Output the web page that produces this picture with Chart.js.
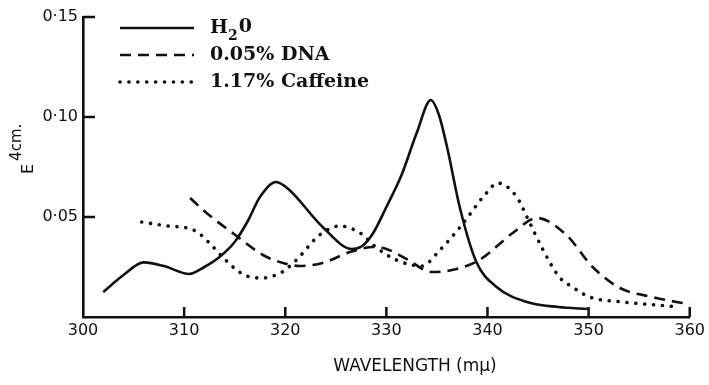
<!DOCTYPE html>
<html>
<head>
<meta charset="utf-8">
<script src="https://cdn.jsdelivr.net/npm/chart.js@4.4.0/dist/chart.umd.min.js"></script>
<style>
  html, body { margin: 0; padding: 0; background: #fff; }
</style>
</head>
<body>
<canvas id="spectra" width="709" height="385"></canvas>
<script>
// absorbance spectra (wavelength in mμ, E 4cm.)
const waterNm = [302, 304, 306, 308, 310.5, 312, 313.5, 315, 316.3, 317.5, 319.1, 320.3, 323.7, 326.6, 327.6, 328.7, 330.0, 331.5, 333.0, 334.4, 335.2, 336.0, 337.3, 338.9, 340.9, 343.9, 347, 350];
const waterE = [0.0125, 0.021, 0.0273, 0.0255, 0.0215, 0.025, 0.030, 0.0375, 0.048, 0.060, 0.0675, 0.064, 0.045, 0.034, 0.0355, 0.042, 0.055, 0.071, 0.092, 0.1085, 0.101, 0.085, 0.054, 0.0275, 0.015, 0.0075, 0.005, 0.004];

const dnaNm = [310.6, 312.1, 314.8, 317.8, 319.8, 321.4, 323.7, 326.4, 328.7, 330.0, 332, 334.5, 336.5, 339.2, 342.5, 344.9, 347.8, 350.4, 353.1, 356.3, 358.7, 360];
const dnaE = [0.0595, 0.0525, 0.042, 0.031, 0.027, 0.0255, 0.027, 0.0325, 0.035, 0.034, 0.029, 0.0225, 0.0235, 0.0285, 0.042, 0.0495, 0.041, 0.025, 0.0145, 0.010, 0.0075, 0.0065];

const caffeineNm = [305.8, 308.4, 310.3, 311.3, 312.4, 313.9, 315.2, 316.2, 317.8, 318.8, 319.7, 321.1, 323.4, 325.4, 327.7, 328.7, 331.0, 333.5, 335.3, 337.3, 339.9, 341.0, 342.9, 343.9, 345.5, 347.1, 348.4, 350.1, 353.4, 356.7, 359];
const caffeineE = [0.0475, 0.0455, 0.0445, 0.0425, 0.0375, 0.0295, 0.0235, 0.0205, 0.0195, 0.0205, 0.0225, 0.0285, 0.041, 0.0455, 0.041, 0.036, 0.0285, 0.0255, 0.0335, 0.045, 0.062, 0.067, 0.060, 0.050, 0.0335, 0.020, 0.015, 0.010, 0.0075, 0.006, 0.005];

const seriesLabels = ['H20', '0.05% DNA', '1.17% Caffeine'];
const xRange = [300, 360];
const yRange = [0, 0.15];
const xTitle = 'WAVELENGTH (mμ)';
const yTitle = ['E', '4cm.'];

const ink = '#111';
const pairs = (xs, ys) => xs.map((x, i) => ({ x, y: ys[i] }));
const tickFont = { family: 'DejaVu Sans', size: 16 };
const legendFont = 'bold 19px "DejaVu Serif"';

// tick marks in the original point into the plot, so draw them ourselves
const inwardTicks = {
  id: 'inwardTicks',
  afterDatasetsDraw(chart) {
    const { ctx, chartArea: area, scales: { x, y } } = chart;
    ctx.save();
    ctx.strokeStyle = ink;
    ctx.lineWidth = 2.5;
    ctx.beginPath();
    x.ticks.forEach((t) => {
      if (t.value === x.min) return;
      const px = x.getPixelForValue(t.value);
      ctx.moveTo(px, area.bottom);
      ctx.lineTo(px, area.bottom - 10);
    });
    y.ticks.forEach((t) => {
      if (t.value === 0) return;
      const py = y.getPixelForValue(t.value);
      ctx.moveTo(area.left, py);
      ctx.lineTo(area.left + 12, py);
    });
    ctx.stroke();
    ctx.restore();
  },
};

const annotations = {
  id: 'annotations',
  afterDraw(chart) {
    const { ctx } = chart;
    ctx.save();
    ctx.fillStyle = ink;

    // legend, using each dataset's own stroke style
    chart.data.datasets.forEach((ds, i) => {
      const ly = 28 + i * 27;
      ctx.save();
      ctx.strokeStyle = ds.borderColor;
      ctx.lineWidth = ds.borderWidth;
      ctx.lineCap = ds.borderCapStyle || 'butt';
      ctx.setLineDash(ds.borderDash || []);
      ctx.beginPath();
      ctx.moveTo(120, ly);
      ctx.lineTo(194, ly);
      ctx.stroke();
      ctx.restore();

      ctx.font = legendFont;
      ctx.textBaseline = 'middle';
      ctx.textAlign = 'left';
      const label = ds.label;
      if (i === 0) {
        // H with subscript 2
        let tx = 210;
        ctx.fillText(label[0], tx, ly);
        tx += ctx.measureText(label[0]).width;
        ctx.font = 'bold 14px "DejaVu Serif"';
        ctx.fillText(label[1], tx, ly + 8);
        tx += ctx.measureText(label[1]).width + 1;
        ctx.font = legendFont;
        ctx.fillText(label.slice(2), tx, ly - 1);
      } else {
        ctx.fillText(label, 210, ly);
      }
    });

    // x axis title
    ctx.font = '17px "DejaVu Sans"';
    ctx.textAlign = 'center';
    ctx.textBaseline = 'middle';
    ctx.fillText(xTitle, 415, 367);

    // y axis title: E with superscript 4cm., rotated
    ctx.translate(33, 174);
    ctx.rotate(-Math.PI / 2);
    ctx.textAlign = 'left';
    ctx.textBaseline = 'alphabetic';
    ctx.font = '16px "DejaVu Sans"';
    ctx.fillText(yTitle[0], 0, 0);
    const ew = ctx.measureText(yTitle[0]).width;
    ctx.font = '15px "DejaVu Sans"';
    ctx.fillText(yTitle[1], ew + 3, -12);
    ctx.restore();
  },
};

new Chart(document.getElementById('spectra'), {
  type: 'line',
  data: {
    datasets: [
      {
        label: seriesLabels[0],
        data: pairs(waterNm, waterE),
        borderColor: ink,
        borderWidth: 2.6,
      },
      {
        label: seriesLabels[1],
        data: pairs(dnaNm, dnaE),
        borderColor: ink,
        borderWidth: 2.6,
        borderDash: [11, 7],
      },
      {
        label: seriesLabels[2],
        data: pairs(caffeineNm, caffeineE),
        borderColor: ink,
        borderWidth: 3.6,
        borderDash: [0.1, 8.8],
        borderCapStyle: 'round',
      },
    ],
  },
  options: {
    responsive: false,
    animation: false,
    devicePixelRatio: 1,
    elements: {
      point: { radius: 0 },
      line: { cubicInterpolationMode: 'monotone', fill: false },
    },
    layout: { padding: { left: 0, right: 19, top: 17, bottom: 0 } },
    scales: {
      x: {
        type: 'linear',
        min: xRange[0],
        max: xRange[1],
        grid: { display: false, drawTicks: false },
        border: { color: ink, width: 2.6 },
        ticks: {
          stepSize: 10,
          padding: 4,
          color: ink,
          font: tickFont,
          callback: (v) => String(v),
        },
        afterFit: (s) => { s.height = 68; },
      },
      y: {
        min: yRange[0],
        max: yRange[1],
        grid: { display: false, drawTicks: false },
        border: { color: ink, width: 2.6 },
        ticks: {
          stepSize: 0.05,
          padding: 5,
          color: ink,
          font: tickFont,
          callback: (v) => (v === 0 ? '' : v.toFixed(2).replace('.', '·')),
        },
        afterFit: (s) => { s.width = 83; },
      },
    },
    plugins: {
      legend: { display: false },
      tooltip: { enabled: false },
    },
  },
  plugins: [inwardTicks, annotations],
});
</script>
</body>
</html>
